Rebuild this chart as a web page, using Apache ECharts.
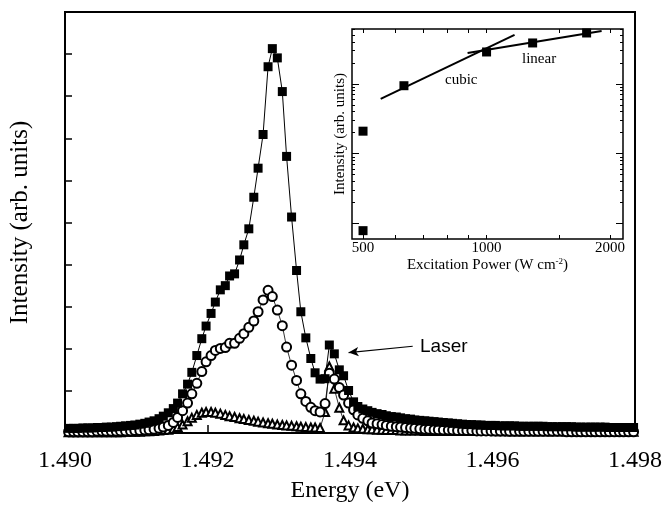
<!DOCTYPE html>
<html>
<head>
<meta charset="utf-8">
<script src="https://cdn.jsdelivr.net/npm/echarts@6/dist/echarts.min.js"></script>
<style>
  html, body { margin: 0; padding: 0; background: #fff; }
  #main { width: 665px; height: 508px; }
</style>
</head>
<body>
<div id="main"></div>
<script>
// 能量 (eV)
const energy = [
  1.49005, 1.49012, 1.49018, 1.49025, 1.49032, 1.49038, 1.49045, 1.49052, 1.49058, 1.49065,
  1.49072, 1.49078, 1.49085, 1.49092, 1.49098, 1.49105, 1.49112, 1.49118, 1.49125, 1.49132,
  1.49138, 1.49145, 1.49152, 1.49158, 1.49165, 1.49172, 1.49178, 1.49185, 1.49192, 1.49198,
  1.49205, 1.49211, 1.49218, 1.49225, 1.49231, 1.49238, 1.49245, 1.49251, 1.49258, 1.49265,
  1.49271, 1.49278, 1.49285, 1.49291, 1.49298, 1.49305, 1.49311, 1.49318, 1.49325, 1.49331,
  1.49338, 1.49345, 1.49351, 1.49358, 1.49365, 1.49371, 1.49378, 1.49385, 1.49391, 1.49398,
  1.49405, 1.49411, 1.49418, 1.49425, 1.49431, 1.49438, 1.49445, 1.49451, 1.49458, 1.49465,
  1.49471, 1.49478, 1.49485, 1.49491, 1.49498, 1.49505, 1.49511, 1.49518, 1.49524, 1.49531,
  1.49538, 1.49544, 1.49551, 1.49558, 1.49564, 1.49571, 1.49578, 1.49584, 1.49591, 1.49598,
  1.49604, 1.49611, 1.49618, 1.49624, 1.49631, 1.49638, 1.49644, 1.49651, 1.49658, 1.49664,
  1.49671, 1.49678, 1.49684, 1.49691, 1.49698, 1.49704, 1.49711, 1.49718, 1.49724, 1.49731,
  1.49738, 1.49744, 1.49751, 1.49758, 1.49764, 1.49771, 1.49778, 1.49784, 1.49791, 1.49798
]
// 实心方块
const squares = [
  0.11, 0.11, 0.11, 0.12, 0.12, 0.12, 0.13, 0.13, 0.14, 0.14,
  0.15, 0.16, 0.17, 0.18, 0.19, 0.21, 0.23, 0.26, 0.29, 0.34,
  0.40, 0.48, 0.58, 0.71, 0.93, 1.16, 1.44, 1.84, 2.24, 2.54,
  2.84, 3.11, 3.40, 3.50, 3.73, 3.78, 4.11, 4.47, 4.85, 5.60,
  6.29, 7.09, 8.70, 9.13, 8.91, 8.11, 6.57, 5.13, 3.86, 2.88,
  2.26, 1.77, 1.43, 1.28, 1.29, 2.09, 1.88, 1.50, 1.36, 1.01,
  0.74, 0.63, 0.57, 0.53, 0.49, 0.46, 0.44, 0.41, 0.39, 0.38,
  0.36, 0.34, 0.33, 0.31, 0.30, 0.29, 0.28, 0.27, 0.26, 0.25,
  0.24, 0.23, 0.22, 0.21, 0.20, 0.20, 0.19, 0.19, 0.18, 0.18,
  0.18, 0.17, 0.17, 0.17, 0.17, 0.16, 0.16, 0.16, 0.16, 0.16,
  0.16, 0.15, 0.15, 0.15, 0.15, 0.15, 0.15, 0.14, 0.14, 0.14,
  0.14, 0.14, 0.14, 0.14, 0.13, 0.13, 0.13, 0.13, 0.13, 0.13
]
// 空心圆
const circles = [
  0.03, 0.03, 0.03, 0.03, 0.03, 0.03, 0.04, 0.04, 0.04, 0.04,
  0.04, 0.05, 0.05, 0.05, 0.06, 0.06, 0.07, 0.08, 0.09, 0.11,
  0.14, 0.18, 0.25, 0.37, 0.53, 0.71, 0.93, 1.18, 1.46, 1.69,
  1.84, 1.96, 2.01, 2.03, 2.13, 2.13, 2.25, 2.36, 2.51, 2.66,
  2.88, 3.16, 3.39, 3.24, 2.92, 2.55, 2.04, 1.61, 1.25, 0.93,
  0.75, 0.61, 0.53, 0.50, 0.70, 1.42, 1.28, 1.08, 0.90, 0.71,
  0.55, 0.43, 0.35, 0.29, 0.24, 0.22, 0.20, 0.18, 0.16, 0.15,
  0.14, 0.13, 0.12, 0.11, 0.10, 0.09, 0.09, 0.08, 0.08, 0.07,
  0.07, 0.07, 0.06, 0.06, 0.06, 0.06, 0.05, 0.05, 0.05, 0.05,
  0.05, 0.05, 0.05, 0.04, 0.04, 0.04, 0.04, 0.04, 0.04, 0.04,
  0.04, 0.04, 0.04, 0.04, 0.04, 0.03, 0.03, 0.03, 0.03, 0.03,
  0.03, 0.03, 0.03, 0.03, 0.03, 0.03, 0.03, 0.03, 0.03, 0.03
]
// 空心三角
const triangles = [
  0.02, 0.02, 0.02, 0.02, 0.02, 0.02, 0.02, 0.02, 0.02, 0.02,
  0.02, 0.02, 0.03, 0.03, 0.03, 0.03, 0.04, 0.04, 0.05, 0.06,
  0.07, 0.08, 0.10, 0.14, 0.20, 0.28, 0.36, 0.43, 0.48, 0.50,
  0.50, 0.48, 0.46, 0.43, 0.40, 0.38, 0.35, 0.33, 0.31, 0.29,
  0.27, 0.25, 0.23, 0.22, 0.20, 0.19, 0.18, 0.17, 0.16, 0.15,
  0.14, 0.13, 0.13, 0.12, 0.50, 1.58, 1.05, 0.60, 0.30, 0.18,
  0.13, 0.11, 0.10, 0.09, 0.09, 0.08, 0.08, 0.07, 0.07, 0.07,
  0.06, 0.06, 0.06, 0.06, 0.06, 0.05, 0.05, 0.05, 0.05, 0.05,
  0.05, 0.05, 0.05, 0.05, 0.05, 0.05, 0.05, 0.05, 0.05, 0.05,
  0.04, 0.04, 0.04, 0.04, 0.04, 0.04, 0.04, 0.04, 0.04, 0.04,
  0.04, 0.04, 0.04, 0.04, 0.04, 0.04, 0.04, 0.04, 0.04, 0.04,
  0.03, 0.03, 0.03, 0.03, 0.03, 0.03, 0.03, 0.03, 0.03, 0.03
]
// Laser 箭头 (起点 -> 终点)
const laserArrowE = [1.49488, 1.49398]
const laserArrowI = [2.06, 1.91]

// 插图: 激发功率 vs 强度
const insetPower = [500, 500, 629, 1000, 1295, 1753]
const insetIntensity = [21, 0.79, 94, 286, 385, 535]
const cubicPower = [552, 1170]
const cubicIntensity = [61, 501]
const linearPower = [899, 1907]
const linearIntensity = [277, 572]
const insetPowerLabels = [500, 1000, 2000]
const insetPowerMinor = [600, 700, 800, 900, 1500]
const insetIntensityMajor = [1, 10, 100]
const insetIntensityMinor = [2, 3, 4, 5, 6, 7, 8, 9, 20, 30, 40, 50, 60, 70, 80, 90, 200, 300, 400, 500, 600]

const pairs = (xs, ys) => xs.map((x, i) => [x, ys[i]])

const serif = 'Liberation Serif'
const black = '#000'

const chart = echarts.init(document.getElementById('main'))

const insetYAxis = (position, ticks, len, withName) => ({
  type: 'log', gridIndex: 1, min: 0.6, max: 610, position: position, z: 6,
  axisLine: { show: false },
  axisTick: { show: true, inside: true, length: len, customValues: ticks, lineStyle: { color: black, width: 1 } },
  axisLabel: { show: false },
  splitLine: { show: false },
  name: withName ? 'Intensity (arb. units)' : '',
  nameLocation: 'middle', nameGap: 4, nameRotate: 90,
  nameTextStyle: { fontFamily: serif, fontSize: 15, color: black }
})

const option = {
  animation: false,
  backgroundColor: '#fff',
  grid: [
    { left: 62, right: 28, top: 12, bottom: 73, show: true, borderColor: black, borderWidth: 2, backgroundColor: 'transparent' },
    { left: 352, right: 42, top: 29, bottom: 269, show: true, borderColor: black, borderWidth: 1.5, backgroundColor: '#fff', z: 5 }
  ],
  xAxis: [
    {
      type: 'value', gridIndex: 0, min: 1.490, max: 1.498, interval: 0.002,
      axisLine: { lineStyle: { color: black, width: 2 } },
      axisTick: { inside: true, length: 8, lineStyle: { color: black, width: 1.5 } },
      axisLabel: { margin: 16, fontFamily: serif, fontSize: 24, color: black, formatter: v => v.toFixed(3) },
      splitLine: { show: false },
      name: 'Energy (eV)', nameLocation: 'middle', nameGap: 46,
      nameTextStyle: { fontFamily: serif, fontSize: 24, color: black }
    },
    {
      type: 'log', gridIndex: 1, min: 470, max: 2150, z: 6,
      axisLine: { show: false },
      axisTick: { inside: true, length: 4, customValues: insetPowerLabels.concat(insetPowerMinor), lineStyle: { color: black } },
      axisLabel: { margin: 2, fontFamily: serif, fontSize: 15, color: black, customValues: insetPowerLabels, formatter: v => String(Math.round(v)) },
      splitLine: { show: false },
      name: 'Excitation Power (W cm{sup|-2})', nameLocation: 'middle', nameGap: 17,
      nameTextStyle: {
        fontFamily: serif, fontSize: 15, color: black,
        rich: { sup: { fontFamily: serif, fontSize: 9, color: black, verticalAlign: 'top', padding: [0, 0, 8, 0] } }
      }
    },
    {
      type: 'log', gridIndex: 1, min: 470, max: 2150, position: 'top', z: 6,
      axisLine: { show: false },
      axisTick: { inside: true, length: 4, customValues: insetPowerLabels.concat(insetPowerMinor), lineStyle: { color: black } },
      axisLabel: { show: false },
      splitLine: { show: false }
    }
  ],
  yAxis: [
    {
      type: 'value', gridIndex: 0, min: 0, max: 10, interval: 1,
      axisLine: { lineStyle: { color: black, width: 2 } },
      axisTick: { inside: true, length: 7, lineStyle: { color: black, width: 1.5 } },
      axisLabel: { show: false },
      splitLine: { show: false },
      name: 'Intensity (arb. units)', nameLocation: 'middle', nameGap: 32,
      nameTextStyle: { fontFamily: serif, fontSize: 25, color: black }
    },
    insetYAxis('left', insetIntensityMinor, 3, true),
    insetYAxis('left', insetIntensityMajor, 7, false),
    insetYAxis('right', insetIntensityMinor, 3, false),
    insetYAxis('right', insetIntensityMajor, 7, false)
  ],
  graphic: [
    { type: 'text', left: 420, top: 337, z: 20, style: { text: 'Laser', font: '19px "Liberation Sans"', fill: black } },
    { type: 'text', left: 445, top: 73, z: 20, style: { text: 'cubic', font: '15px "Liberation Serif"', fill: black } },
    { type: 'text', left: 522, top: 52, z: 20, style: { text: 'linear', font: '15px "Liberation Serif"', fill: black } }
  ],
  // 绘制顺序: 三角 -> 圆 -> 方块 (方块在最上层)
  series: [
    {
      type: 'line', xAxisIndex: 0, yAxisIndex: 0,
      data: pairs(energy, triangles),
      symbol: 'emptyTriangle', symbolSize: 8,
      itemStyle: { color: black, borderWidth: 1 },
      lineStyle: { color: black, width: 0.8 }
    },
    {
      type: 'line', xAxisIndex: 0, yAxisIndex: 0,
      data: pairs(energy, circles),
      symbol: 'emptyCircle', symbolSize: 9,
      itemStyle: { color: black, borderWidth: 1 },
      lineStyle: { color: black, width: 0.8 }
    },
    {
      type: 'line', xAxisIndex: 0, yAxisIndex: 0,
      data: pairs(energy, squares),
      symbol: 'rect', symbolSize: 9,
      itemStyle: { color: black },
      lineStyle: { color: black, width: 1 },
      markLine: {
        silent: true, symbol: ['none', 'arrow'], symbolSize: [7, 10],
        label: { show: false },
        lineStyle: { color: black, width: 1.2, type: 'solid' },
        data: [[{ coord: [laserArrowE[0], laserArrowI[0]] }, { coord: [laserArrowE[1], laserArrowI[1]] }]]
      }
    },
    {
      type: 'line', xAxisIndex: 1, yAxisIndex: 1, z: 7,
      data: pairs(cubicPower, cubicIntensity),
      showSymbol: false, lineStyle: { color: black, width: 2 }
    },
    {
      type: 'line', xAxisIndex: 1, yAxisIndex: 1, z: 7,
      data: pairs(linearPower, linearIntensity),
      showSymbol: false, lineStyle: { color: black, width: 2 }
    },
    {
      type: 'scatter', xAxisIndex: 1, yAxisIndex: 1, z: 8,
      data: pairs(insetPower, insetIntensity),
      symbol: 'rect', symbolSize: 9,
      itemStyle: { color: black, opacity: 1 }
    }
  ]
}

chart.setOption(option)
</script>
</body>
</html>
